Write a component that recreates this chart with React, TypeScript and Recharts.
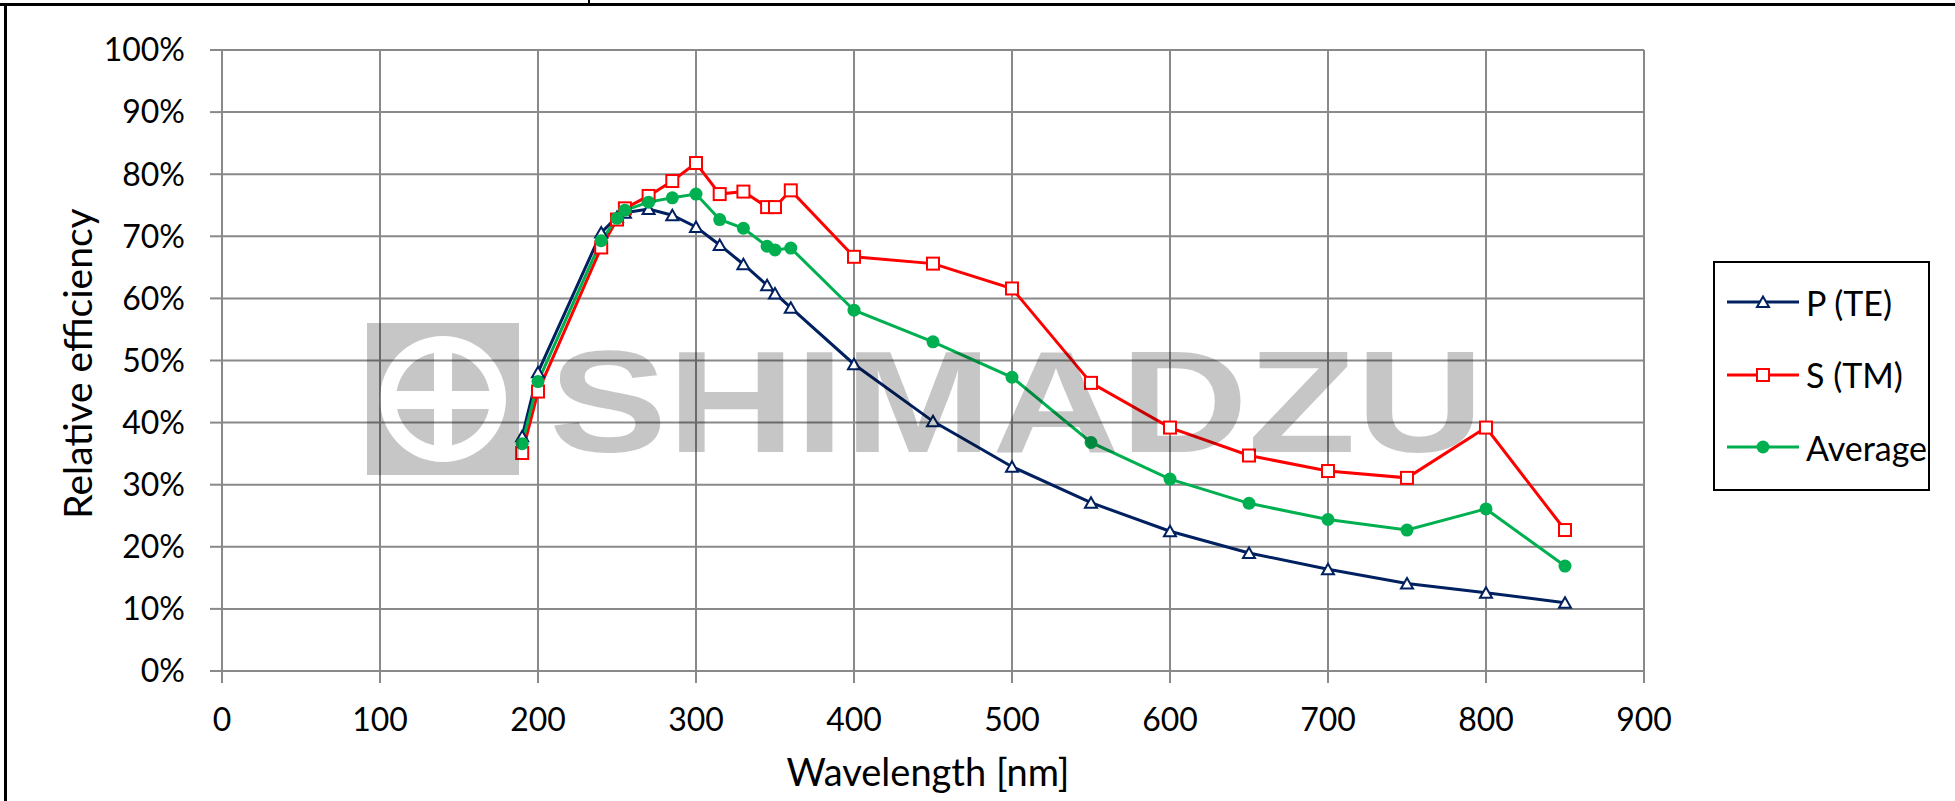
import { LineChart, Line, XAxis, YAxis, CartesianGrid } from "recharts";

// wavelength [nm]
const wavelengths = [190, 200, 240, 250, 255, 270, 285, 300, 315, 330, 345, 350, 360, 400, 450, 500, 550, 600, 650, 700, 750, 800, 850];
// relative efficiency [%]
const pTE = [37.8, 48.1, 70.6, 73.1, 73.8, 74.4, 73.4, 71.5, 68.6, 65.5, 62.1, 60.8, 58.5, 49.4, 40.2, 32.9, 27.1, 22.5, 19.0, 16.4, 14.1, 12.6, 11.0];
const sTM = [35.1, 45.0, 68.2, 72.7, 74.5, 76.5, 78.9, 81.8, 76.8, 77.2, 74.7, 74.7, 77.4, 66.7, 65.6, 61.6, 46.4, 39.2, 34.7, 32.2, 31.1, 39.2, 22.7];
const average = [36.6, 46.6, 69.3, 72.9, 74.2, 75.5, 76.2, 76.8, 72.7, 71.3, 68.4, 67.8, 68.1, 58.1, 53.0, 47.3, 36.8, 30.9, 27.0, 24.4, 22.7, 26.1, 16.9];

const xTicks = [0, 100, 200, 300, 400, 500, 600, 700, 800, 900];
const yTicks = [0, 10, 20, 30, 40, 50, 60, 70, 80, 90, 100];

const GRID = "#898989";
const FONT = "Lato, 'Noto Sans', sans-serif";

type Marker = "triangle" | "square" | "circle";
const series: { key: string; name: string; color: string; marker: Marker }[] = [
  { key: "p", name: "P (TE)", color: "#002060", marker: "triangle" },
  { key: "s", name: "S (TM)", color: "#ff0000", marker: "square" },
  { key: "avg", name: "Average", color: "#00b050", marker: "circle" },
];

const data = wavelengths.map((w, i) => ({ w, p: pTE[i], s: sTM[i], avg: average[i] }));

function MarkerShape({ cx, cy, color, marker }: { cx: number; cy: number; color: string; marker: Marker }) {
  if (cx == null || cy == null) return null;
  if (marker === "triangle")
    return (
      <path
        d={`M${cx},${cy - 5.5} L${cx + 6},${cy + 5} L${cx - 6},${cy + 5} Z`}
        fill="#fff"
        stroke={color}
        strokeWidth={2}
      />
    );
  if (marker === "square")
    return <rect x={cx - 6} y={cy - 6} width={12} height={12} fill="#fff" stroke={color} strokeWidth={2} />;
  return <circle cx={cx} cy={cy} r={6.5} fill={color} />;
}

function Legend() {
  return (
    <div
      style={{
        position: "absolute",
        left: 1713,
        top: 261,
        width: 217,
        height: 230,
        border: "2px solid #000",
        boxSizing: "border-box",
        background: "#fff",
        paddingTop: 3,
      }}
    >
      {series.map((s) => (
        <div key={s.key} style={{ height: 72.5, display: "flex", alignItems: "center", paddingLeft: 12 }}>
          <svg width={72} height={24} style={{ flex: "none" }}>
            <line x1={0} y1={12} x2={72} y2={12} stroke={s.color} strokeWidth={3} />
            <MarkerShape cx={36} cy={12} color={s.color} marker={s.marker} />
          </svg>
          <span style={{ marginLeft: 7, fontFamily: FONT, fontSize: 34, color: "#000", whiteSpace: "nowrap" }}>{s.name}</span>
        </div>
      ))}
    </div>
  );
}

function Watermark() {
  return (
    <svg width={1955} height={801} style={{ position: "absolute", left: 0, top: 0, pointerEvents: "none" }}>
      <defs>
        <mask id="logoMask">
          <rect x={367} y={323} width={152} height={152} fill="#fff" />
          <circle cx={443} cy={399} r={63} fill="#000" />
          <circle cx={443} cy={399} r={47} fill="#fff" />
          <rect x={434} y={338} width={18} height={122} fill="#000" />
          <rect x={382} y={391} width={122} height={18} fill="#000" />
        </mask>
      </defs>
      <g opacity={0.225}>
        <rect x={367} y={323} width={152} height={152} fill="#000" mask="url(#logoMask)" />
        <text
          x={549}
          y={452}
          fontSize={145}
          fontWeight={700}
          fontFamily="'Liberation Sans', Arial, sans-serif"
          textLength={935}
          lengthAdjust="spacingAndGlyphs"
          fill="#000"
        >
          SHIMADZU
        </text>
      </g>
    </svg>
  );
}

export default function App() {
  return (
    <div style={{ position: "absolute", left: 0, top: 0, width: 1955, height: 801, background: "#fff", overflow: "hidden" }}>
      <LineChart width={1955} height={801} data={data} margin={{ top: 50, right: 311, bottom: 0, left: 0 }}>
        <CartesianGrid stroke={GRID} strokeWidth={2} />
        <XAxis
          type="number"
          dataKey="w"
          domain={[0, 900]}
          ticks={xTicks}
          interval={0}
          height={130}
          tickSize={12}
          tickMargin={25}
          axisLine={{ stroke: GRID, strokeWidth: 2 }}
          tickLine={{ stroke: GRID, strokeWidth: 2 }}
          tick={{ fill: "#000", fontSize: 32, fontFamily: FONT }}
          label={{
            content: (props: any) => {
              const vb = props.viewBox || { x: 222, y: 671, width: 1422, height: 130 };
              return (
                <text x={vb.x + vb.width / 2 - 5} y={786} textAnchor="middle" fontSize={38} fontFamily={FONT} fill="#000">
                  Wavelength [nm]
                </text>
              );
            },
          }}
        />
        <YAxis
          type="number"
          domain={[0, 100]}
          ticks={yTicks}
          interval={0}
          width={222}
          tickSize={12}
          tickMargin={25}
          tickFormatter={(v: number) => `${v}%`}
          axisLine={{ stroke: GRID, strokeWidth: 2 }}
          tickLine={{ stroke: GRID, strokeWidth: 2 }}
          tick={{ fill: "#000", fontSize: 32, fontFamily: FONT }}
          label={{
            content: (props: any) => {
              const vb = props.viewBox || { x: 0, y: 50, width: 222, height: 621 };
              const cy = vb.y + vb.height / 2 + 3;
              return (
                <text
                  x={77}
                  y={cy}
                  transform={`rotate(-90 77 ${cy})`}
                  textAnchor="middle"
                  dominantBaseline="central"
                  fontSize={39}
                  fontFamily={FONT}
                  fill="#000"
                >
                  Relative efficiency
                </text>
              );
            },
          }}
        />
        {series.map((s) => (
          <Line
            key={s.key}
            type="linear"
            dataKey={s.key}
            name={s.name}
            stroke={s.color}
            strokeWidth={3}
            isAnimationActive={false}
            activeDot={false}
            dot={(p: any) => <MarkerShape key={`${s.key}-${p.index}`} cx={p.cx} cy={p.cy} color={s.color} marker={s.marker} />}
          />
        ))}
      </LineChart>
      <Watermark />
      <Legend />
      {/* frame lines from the surrounding table cell */}
      <div style={{ position: "absolute", left: 0, top: 3, width: 1955, height: 3, background: "#000" }} />
      <div style={{ position: "absolute", left: 4, top: 3, width: 3, height: 798, background: "#000" }} />
      <div style={{ position: "absolute", left: 588, top: 0, width: 2, height: 4, background: "#000" }} />
    </div>
  );
}
